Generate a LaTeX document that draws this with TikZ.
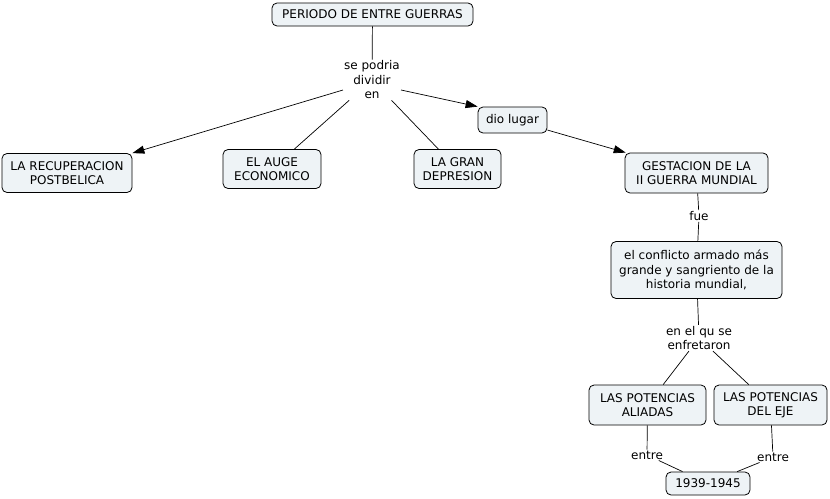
\documentclass[tikz,border=0pt]{standalone}
\usepackage{fontspec}
\setmainfont{DejaVu Sans}
\usetikzlibrary{arrows.meta}
\definecolor{boxfill}{HTML}{EEF3F6}
\tikzset{
  concept/.style={draw=black, fill=boxfill, rounded corners=5pt, line width=0.8pt, align=center, inner sep=2pt, font=\fontsize{12}{14.5}\selectfont},
  linkword/.style={align=center, inner sep=1pt, font=\fontsize{12}{14.5}\selectfont},
  conn/.style={line width=0.7pt},
  arr/.style={line width=0.7pt, -{Triangle[length=12pt,width=8pt]}}
}
\begin{document}
\begin{tikzpicture}[x=1pt,y=-1pt]
\useasboundingbox (0,0) rectangle (830,498);
\node[concept, minimum width=201pt, minimum height=23pt] (periodo) at (372.5,14.5) {PERIODO DE ENTRE GUERRAS};
\node[linkword] (div) at (372,80) {se podria\\dividir\\en};
\node[concept, minimum width=130pt, minimum height=39pt] (recup) at (67,173) {LA RECUPERACION\\POSTBELICA};
\node[concept, minimum width=98pt, minimum height=39pt] (auge) at (272,169) {EL AUGE\\ECONOMICO};
\node[concept, minimum width=87pt, minimum height=39pt] (gran) at (457.5,169) {LA GRAN\\DEPRESION};
\node[concept, minimum width=69pt, minimum height=26pt] (dio) at (512.5,120) {dio lugar};
\node[concept, minimum width=143pt, minimum height=40pt] (gest) at (696.5,173) {GESTACION DE LA\\II GUERRA MUNDIAL};
\node[linkword] (fue) at (699,216) {fue};
\node[concept, minimum width=171pt, minimum height=57pt] (conf) at (696.5,270) {el conflicto armado más\\grande y sangriento de la\\historia mundial,};
\node[linkword] (enf) at (699,338) {en el qu se\\enfretaron};
\node[concept, minimum width=117pt, minimum height=40pt] (ali) at (647.5,405) {LAS POTENCIAS\\ALIADAS};
\node[concept, minimum width=113pt, minimum height=40pt] (eje) at (770.5,405) {LAS POTENCIAS\\DEL EJE};
\node[linkword] (entre1) at (647,455) {entre};
\node[linkword] (entre2) at (773,457) {entre};
\node[concept, minimum width=84pt, minimum height=23pt] (fecha) at (708,483.5) {1939-1945};

\draw[conn] (periodo) -- (div);
\draw[arr] (div.west) ++(0,10) coordinate (d1) -- (recup.north east);
\draw[conn] (div) -- (auge);
\draw[conn] (div) -- (gran);
\draw[arr] (div.east) ++(0,10) coordinate (d2) -- (dio.north west);
\draw[arr] (dio) -- (gest);
\draw[conn] (gest) -- (fue);
\draw[conn] (fue) -- (conf);
\draw[conn] (conf) -- (enf);
\draw[conn] (enf) -- (ali);
\draw[conn] (enf) -- (eje);
\draw[conn] (ali) -- (entre1);
\draw[conn] (entre1) -- (fecha);
\draw[conn] (eje) -- (entre2);
\draw[conn] (entre2) -- (fecha);
\end{tikzpicture}
\end{document}
